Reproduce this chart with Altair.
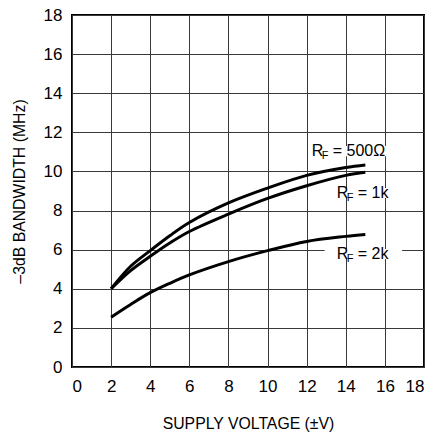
import altair as alt
import pandas as pd

# Supply voltage (±V) sample points and measured -3dB bandwidth (MHz) per feedback resistor
supply_v = [2, 3, 4, 5, 6, 8, 10, 12, 14, 15]
bw_500 = [4.0, 5.15, 5.95, 6.71, 7.39, 8.39, 9.15, 9.8, 10.2, 10.33]
bw_1k = [4.0, 4.93, 5.66, 6.34, 6.93, 7.82, 8.62, 9.27, 9.8, 9.96]
bw_2k = [2.55, 3.2, 3.8, 4.28, 4.71, 5.39, 5.95, 6.42, 6.68, 6.78]

series_names = ["500", "1k", "2k"]
series_values = [bw_500, bw_1k, bw_2k]

# Curve label anchors (data coordinates) and their texts
label_x = [12.26, 13.54, 13.54]
label_y = [11.04, 8.9, 5.78]
label_rest = ["= 500Ω", "= 1k", "= 2k"]
label_box_x = [14.3, 14.9, 14.9]

axis_ticks = [0, 2, 4, 6, 8, 10, 12, 14, 16, 18]

FONT = "Liberation Sans"

rows = []
for name, vals in zip(series_names, series_values):
    for v, b in zip(supply_v, vals):
        rows.append({"series": name, "v": v, "bw": b})
curves = pd.DataFrame(rows)

labels = pd.DataFrame({
    "x": label_x, "y": label_y, "rest": label_rest, "bx": label_box_x,
})

xs = alt.Scale(domain=[0, 18], nice=False, zero=True)
ys = alt.Scale(domain=[0, 18], nice=False, zero=True)

x_axis = alt.Axis(
    values=axis_ticks, tickCount=10, grid=True, ticks=False, labelPadding=11,
    labelOverlap=False, title="SUPPLY VOLTAGE (±V)", titlePadding=22,
)
y_axis = alt.Axis(
    values=axis_ticks, tickCount=10, grid=True, ticks=False, labelPadding=10,
    labelOverlap=False, title="–3dB BANDWIDTH (MHz)", titlePadding=16,
)


def xe(field):
    return alt.X(field, type="quantitative", scale=xs, axis=x_axis)


def ye(field):
    return alt.Y(field, type="quantitative", scale=ys, axis=y_axis)


lines = alt.Chart(curves).mark_line(
    color="black", strokeWidth=3, interpolate="catmull-rom", clip=True
).encode(x=xe("v"), y=ye("bw"), detail="series:N")

base = alt.Chart(labels)

# White backing boxes so the grid is interrupted behind each label
boxes = base.mark_point(
    shape="M-1,-0.13L1,-0.13L1,0.13L-1,0.13Z", filled=True, color="white",
    opacity=1, size=6000,
).encode(x=xe("bx"), y=ye("y"))

txt_r = base.mark_text(
    text="R", align="left", baseline="middle", font=FONT, fontSize=16, color="black",
).encode(x=xe("x"), y=ye("y"))

txt_f = base.mark_text(
    text="F", align="left", baseline="middle", font=FONT, fontSize=11, color="black",
    dx=10, dy=5,
).encode(x=xe("x"), y=ye("y"))

txt_rest = base.mark_text(
    align="left", baseline="middle", font=FONT, fontSize=16, color="black", dx=21,
).encode(x=xe("x"), y=ye("y"), text="rest:N")

chart = alt.layer(lines, boxes, txt_r, txt_f, txt_rest).properties(
    width=352, height=352,
    padding={"left": 72, "top": 15, "right": 4, "bottom": 69},
    autosize=alt.AutoSizeParams(type="none"),
    background="white",
).configure_view(
    stroke="black", strokeWidth=2,
).configure_axis(
    domain=False,
    gridColor="#3a3a3a", gridWidth=1, gridOpacity=1,
    labelFont=FONT, labelFontSize=17, labelColor="black",
    titleFont=FONT, titleFontSize=15.8, titleFontWeight="normal", titleColor="black",
)

chart.save("out.html", embed_options={"renderer": "svg", "actions": False})
